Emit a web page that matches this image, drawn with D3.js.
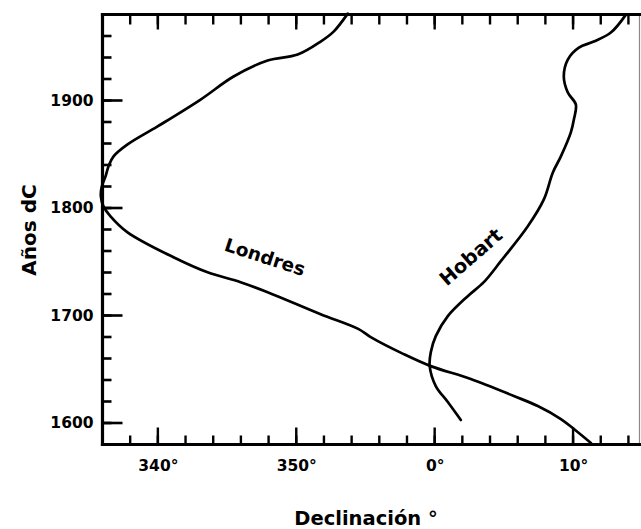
<!DOCTYPE html>
<html>
<head>
<meta charset="utf-8">
<script src="https://cdn.jsdelivr.net/npm/d3@7"></script>
<style>
  html, body { margin: 0; padding: 0; background: #fff; }
  svg { display: block; }
  text { font-family: "DejaVu Sans", sans-serif; font-weight: bold; fill: #000; }
</style>
</head>
<body>
<svg id="chart" width="641" height="529"></svg>
<script>
// Magnetic declination (degrees, east positive) against year
const londresYear = [1581.4, 1594.4, 1603.7, 1615.8, 1625.1, 1640.9, 1652.9, 1664.1, 1679.9, 1687.3,
                     1701.2, 1721.7, 1731.0, 1740.2, 1754.2, 1777.4, 1792.3, 1801.5, 1811.0, 1820.0,
                     1829.4, 1838.7, 1848.0, 1859.1, 1875.9, 1900.9, 1922.3, 1937.2, 1942.7, 1954.8,
                     1964.1, 1980.8];
const londresDecl = [11.29, 10.06, 9.12, 7.45, 5.72, 2.61, -0.28, -2.24, -4.62, -5.49,
                     -8.24, -12.07, -14.02, -16.41, -18.87, -22.19, -23.42, -23.93, -24.12, -24.05,
                     -23.78, -23.57, -23.20, -22.19, -20.02, -16.91, -14.53, -12.07, -9.90, -8.24,
                     -7.30, -6.28];

const hobartYear = [1602.8, 1619.5, 1634.4, 1652.9, 1665.9, 1680.8, 1699.4, 1718.0, 1731.0, 1750.5,
                    1783.0, 1808.0, 1833.1, 1848.0, 1870.3, 1882.4, 1896.3, 1907.4, 1922.3, 1938.1,
                    1949.2, 1954.8, 1963.2, 1979.9];
const hobartDecl = [1.89, 0.95, 0.08, -0.36, -0.28, 0.08, 0.95, 2.39, 3.55, 4.78,
                    6.73, 7.89, 8.54, 9.12, 9.84, 10.06, 10.20, 9.62, 9.33, 9.62,
                    10.42, 11.50, 12.73, 13.82];

// Axis ticks and labels
const yearMajorTicks = [1600, 1700, 1800, 1900];
const yearMinorTicks = d3.range(1580, 1981, 20);
const declMajorTicks = [-20, -10, 0, 10];
const declMajorLabels = ["340°", "350°", "0°", "10°"];
const declMinorTicks = d3.range(-24, 15, 2);

const seriesNames = ["Londres", "Hobart"];

const svg = d3.select("#chart");
const plotLeft = 102.5, plotRight = 639.5, plotTop = 14.5, plotBottom = 444.5;

const x = d3.scaleLinear().domain([-24, 14.8]).range([plotLeft, plotRight]);
const y = d3.scaleLinear().domain([1580, 1980]).range([plotBottom, plotTop]);

// Thin right frame edge
svg.append("line")
  .attr("x1", plotRight).attr("x2", plotRight).attr("y1", plotTop).attr("y2", plotBottom)
  .attr("stroke", "#8a8a8a").attr("stroke-width", 1.2);

// Inward tick marks drawn as small filled bars
const marks = svg.append("g").attr("class", "marks").attr("fill", "#000");
function yBars(values, len) {
  marks.append("g").selectAll("rect").data(values).join("rect")
    .attr("x", plotLeft).attr("width", len)
    .attr("y", d => y(d) - 1.3).attr("height", 2.6);
}
function xBars(values, y0, len) {
  marks.append("g").selectAll("rect").data(values).join("rect")
    .attr("x", d => x(d) - 1.2).attr("width", 2.4)
    .attr("y", len < 0 ? y0 + len : y0).attr("height", Math.abs(len));
}
yBars(yearMinorTicks, 9);
yBars(yearMajorTicks, 20);
xBars(declMinorTicks, plotBottom, -9);
xBars(declMajorTicks, plotBottom, -17);
xBars(declMinorTicks, plotTop, 10);
xBars(declMajorTicks, plotTop, 15);

// Heavy frame lines: left, bottom, top
const frame = svg.append("g").attr("stroke", "#000").attr("stroke-width", 3.2).attr("stroke-linecap", "square");
frame.append("line").attr("x1", plotLeft).attr("x2", plotLeft).attr("y1", plotTop).attr("y2", plotBottom);
frame.append("line").attr("x1", plotLeft).attr("x2", plotRight).attr("y1", plotBottom).attr("y2", plotBottom);
frame.append("line").attr("x1", plotLeft).attr("x2", plotRight).attr("y1", plotTop).attr("y2", plotTop);

// Curves
const curveGen = d3.line()
  .x(d => x(d[1]))
  .y(d => y(d[0]))
  .curve(d3.curveCatmullRom.alpha(0.5));

const series = [
  d3.zip(londresYear, londresDecl),
  d3.zip(hobartYear, hobartDecl)
];
svg.append("g").attr("class", "curves")
  .selectAll("path.curve").data(series).join("path")
  .attr("class", "curve")
  .attr("d", curveGen)
  .attr("fill", "none")
  .attr("stroke", "#000")
  .attr("stroke-width", 2.7)
  .attr("stroke-linejoin", "round")
  .attr("stroke-linecap", "round");

// Tick labels
svg.append("g").attr("transform", `translate(${plotLeft},0)`)
  .call(d3.axisLeft(y).tickValues(yearMajorTicks).tickSize(0).tickPadding(9).tickFormat(d3.format("d")))
  .call(g => g.select(".domain").remove())
  .call(g => g.selectAll("text").style("font-size", "15.5px").attr("fill", "#000"));
svg.append("g").attr("transform", `translate(0,${plotBottom})`)
  .call(d3.axisBottom(x).tickValues(declMajorTicks).tickSize(0).tickPadding(15)
    .tickFormat((d, i) => declMajorLabels[i]))
  .call(g => g.select(".domain").remove())
  .call(g => g.selectAll("text").style("font-size", "15.5px").attr("fill", "#000"));

// Series labels along the curves
svg.append("text")
  .attr("transform", "translate(265,257) rotate(18)")
  .attr("text-anchor", "middle").attr("dominant-baseline", "central")
  .style("font-size", "18.5px")
  .text(seriesNames[0]);
svg.append("text")
  .attr("transform", "translate(471,257) rotate(-41)")
  .attr("text-anchor", "middle").attr("dominant-baseline", "central")
  .style("font-size", "19.5px")
  .text(seriesNames[1]);

// Axis titles
svg.append("text")
  .attr("transform", "translate(29,230) rotate(-90)")
  .attr("text-anchor", "middle").attr("dominant-baseline", "central")
  .style("font-size", "20px")
  .text("Años dC");
svg.append("text")
  .attr("x", 366).attr("y", 525)
  .attr("text-anchor", "middle")
  .style("font-size", "19.5px")
  .text("Declinación °");
</script>
</body>
</html>
